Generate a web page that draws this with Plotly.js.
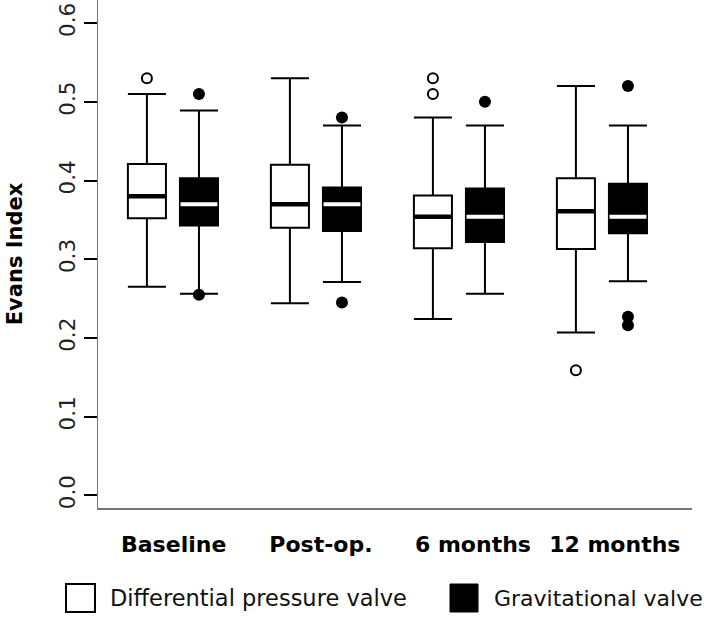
<!DOCTYPE html>
<html>
<head>
<meta charset="utf-8">
<script src="https://cdn.plot.ly/plotly-3.0.1.min.js"></script>
<style>html,body{margin:0;padding:0;background:#fff;}#chart{width:704px;height:618px;}</style>
</head>
<body>
<div id="chart"></div>
<script>
// ---- data ----
const groups = ['Baseline', 'Post-op.', '6 months', '12 months'];
const seriesNames = ['Differential pressure valve', 'Gravitational valve'];

const diffLowerFence = [0.265, 0.244, 0.224, 0.207];
const diffQ1         = [0.352, 0.340, 0.314, 0.313];
const diffMedian     = [0.380, 0.370, 0.354, 0.361];
const diffQ3         = [0.421, 0.420, 0.381, 0.403];
const diffUpperFence = [0.510, 0.530, 0.480, 0.520];
const diffOutliers   = [[0.530], [], [0.510, 0.530], [0.159]];

const gravLowerFence = [0.256, 0.271, 0.256, 0.272];
const gravQ1         = [0.343, 0.336, 0.322, 0.333];
const gravMedian     = [0.370, 0.370, 0.354, 0.354];
const gravQ3         = [0.403, 0.391, 0.390, 0.396];
const gravUpperFence = [0.489, 0.470, 0.470, 0.470];
const gravOutliers   = [[0.255, 0.510], [0.245, 0.480], [0.500], [0.216, 0.227, 0.520]];

const yTicks = [0.0, 0.1, 0.2, 0.3, 0.4, 0.5, 0.6];
const yTickText = ['0.0', '0.1', '0.2', '0.3', '0.4', '0.5', '0.6'];

// ---- layout helpers ----
const OFFSET = 0.182, BOXW = 0.266;
const centers = groups.map((g, i) => i);
const diffX = centers.map(c => c - OFFSET);
const gravX = centers.map(c => c + OFFSET);
// group labels sit slightly right of the group centres in the original
const LABEL_SHIFT = [0.005, 0.035, 0.098, 0.09];
const labelX = centers.map((c, i) => c + LABEL_SHIFT[i]);

function medianSegments(xs, meds, hw) {
  const x = [], y = [];
  xs.forEach((p, i) => { x.push(p - hw, p + hw, null); y.push(meds[i], meds[i], null); });
  return {x, y};
}
function outlierPoints(xs, outs) {
  const x = [], y = [];
  xs.forEach((p, i) => outs[i].forEach(v => { x.push(p); y.push(v); }));
  return {x, y};
}

const dMed = medianSegments(diffX, diffMedian, BOXW / 2);
const gMed = medianSegments(gravX, gravMedian, BOXW / 2 - 0.004);
const dOut = outlierPoints(diffX, diffOutliers);
const gOut = outlierPoints(gravX, gravOutliers);

const traces = [
  {type: 'box', name: seriesNames[0], x: diffX, q1: diffQ1, median: diffMedian, q3: diffQ3,
   lowerfence: diffLowerFence, upperfence: diffUpperFence, width: BOXW, whiskerwidth: 1,
   fillcolor: 'white', line: {color: 'black', width: 2}, boxpoints: false, showlegend: false, hoverinfo: 'skip'},
  {type: 'box', name: seriesNames[1], x: gravX, q1: gravQ1, median: gravMedian, q3: gravQ3,
   lowerfence: gravLowerFence, upperfence: gravUpperFence, width: BOXW, whiskerwidth: 1,
   fillcolor: 'black', line: {color: 'black', width: 2}, boxpoints: false, showlegend: false, hoverinfo: 'skip'},
  {type: 'scatter', mode: 'lines', x: dMed.x, y: dMed.y, line: {color: 'black', width: 4.5},
   showlegend: false, hoverinfo: 'skip', connectgaps: false},
  {type: 'scatter', mode: 'lines', x: gMed.x, y: gMed.y, line: {color: 'white', width: 4},
   showlegend: false, hoverinfo: 'skip', connectgaps: false},
  {type: 'scatter', mode: 'markers', x: dOut.x, y: dOut.y,
   marker: {symbol: 'circle', size: 10, color: 'white', line: {color: 'black', width: 2}},
   showlegend: false, hoverinfo: 'skip', cliponaxis: false},
  {type: 'scatter', mode: 'markers', x: gOut.x, y: gOut.y,
   marker: {symbol: 'circle', size: 12, color: 'black', line: {width: 0}},
   showlegend: false, hoverinfo: 'skip', cliponaxis: false}
];

// legend placed below the plot (paper coordinates)
const L = 98, W = 594, H = 508;
const PXU = 143; // pixels per group unit
const px = v => (v - L) / W, py = v => (H - v) / H;
const shapes = [
  {type: 'rect', xref: 'paper', yref: 'paper', x0: px(66), x1: px(95), y0: py(584), y1: py(612),
   line: {color: 'black', width: 2}, fillcolor: 'white'},
  {type: 'rect', xref: 'paper', yref: 'paper', x0: px(450), x1: px(478), y0: py(584), y1: py(612),
   line: {color: 'black', width: 1}, fillcolor: 'black'}
];
const annotations = [
  {xref: 'paper', yref: 'paper', x: px(108), y: py(598), xanchor: 'left', yanchor: 'middle',
   text: seriesNames[0], showarrow: false, font: {family: 'DejaVu Sans', size: 22.5, color: '#111'}},
  {xref: 'paper', yref: 'paper', x: px(492), y: py(598), xanchor: 'left', yanchor: 'middle',
   text: seriesNames[1], showarrow: false, font: {family: 'DejaVu Sans', size: 22, color: '#111'}}
];

const x0 = -0.524;
const layout = {
  width: 704, height: 618,
  margin: {l: L, r: 704 - L - W, t: 0, b: 618 - H},
  paper_bgcolor: 'white', plot_bgcolor: 'white',
  showlegend: false, boxmode: 'overlay',
  font: {family: 'DejaVu Sans', color: '#111'},
  xaxis: {
    range: [x0, x0 + W / PXU], tickmode: 'array', tickvals: labelX, ticktext: groups,
    showgrid: false, zeroline: false, showline: true, linecolor: '#777', linewidth: 1.5,
    ticks: '', ticklabelstandoff: 16,
    tickfont: {family: 'DejaVu Sans', size: 22, color: 'black', weight: 'bold'}
  },
  yaxis: {
    range: [-0.0161, 0.6294], tickmode: 'array', tickvals: yTicks, ticktext: yTickText,
    showgrid: false, zeroline: false, showline: true, linecolor: '#777', linewidth: 1.5,
    ticks: 'outside', ticklen: 13, tickwidth: 2, tickcolor: 'black', tickangle: -90,
    tickfont: {family: 'DejaVu Sans', size: 21.5, color: '#222'},
    title: {text: 'Evans Index', standoff: 26, font: {family: 'DejaVu Sans', size: 21, color: 'black', weight: 'bold'}}
  },
  shapes: shapes,
  annotations: annotations
};

Plotly.newPlot('chart', traces, layout, {staticPlot: true, displayModeBar: false});
</script>
</body>
</html>
